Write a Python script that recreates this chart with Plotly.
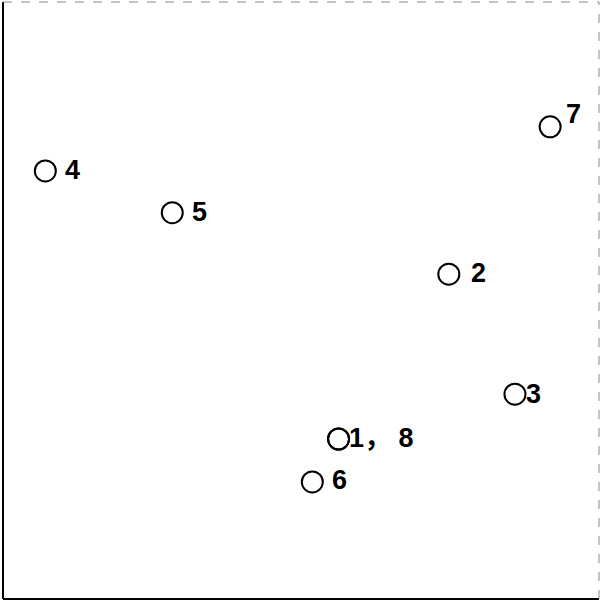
import plotly.graph_objects as go

ids = ["1", "2", "3", "4", "5", "6", "7", "8"]
xs = [56.3, 74.8, 85.9, 7.1, 28.4, 51.9, 91.8, 56.3]
ys = [26.8, 54.4, 34.3, 71.7, 64.7, 19.6, 79.1, 26.8]

# label offsets (pixels) per point
xshift = {"1": 8, "2": 20, "3": 9, "4": 18, "5": 18, "6": 18, "7": 14, "8": 8}
yshift = {"1": 1, "2": 1, "3": 0, "4": 1, "5": 1, "6": 2, "7": 13, "8": 1}

fig = go.Figure()
fig.add_trace(go.Scatter(
    x=xs, y=ys, mode="markers",
    marker=dict(size=21, color="rgba(0,0,0,0)", line=dict(color="black", width=2)),
    hoverinfo="skip", showlegend=False,
))

# group coincident points into one label
groups = {}
for i, (x, y) in enumerate(zip(xs, ys)):
    groups.setdefault((x, y), []).append(ids[i])
for (x, y), names in groups.items():
    fig.add_annotation(
        x=x, y=y, text="， ".join(names), showarrow=False,
        xanchor="left", yanchor="middle",
        xshift=xshift[names[0]], yshift=yshift[names[0]],
        font=dict(family="Liberation Sans, Noto Sans CJK SC, sans-serif", size=27,
                  color="black", weight="bold"),
    )

fig.add_shape(type="line", xref="paper", yref="paper", x0=0, x1=0, y0=0, y1=1,
              line=dict(color="black", width=2))
fig.add_shape(type="line", xref="paper", yref="paper", x0=0, x1=1, y0=0, y1=0,
              line=dict(color="black", width=2))
fig.add_shape(type="line", xref="paper", yref="paper", x0=0, x1=1, y0=1, y1=1,
              line=dict(color="#888888", width=1, dash="dash"))
fig.add_shape(type="line", xref="paper", yref="paper", x0=1, x1=1, y0=0, y1=1,
              line=dict(color="#888888", width=1, dash="dash"))

fig.update_xaxes(range=[0, 100], visible=False, showgrid=False, zeroline=False)
fig.update_yaxes(range=[0, 100], visible=False, showgrid=False, zeroline=False)
fig.update_layout(
    width=602, height=605,
    margin=dict(l=3, r=3, t=2, b=6),
    plot_bgcolor="white", paper_bgcolor="white",
)
fig.write_html("out.html")
